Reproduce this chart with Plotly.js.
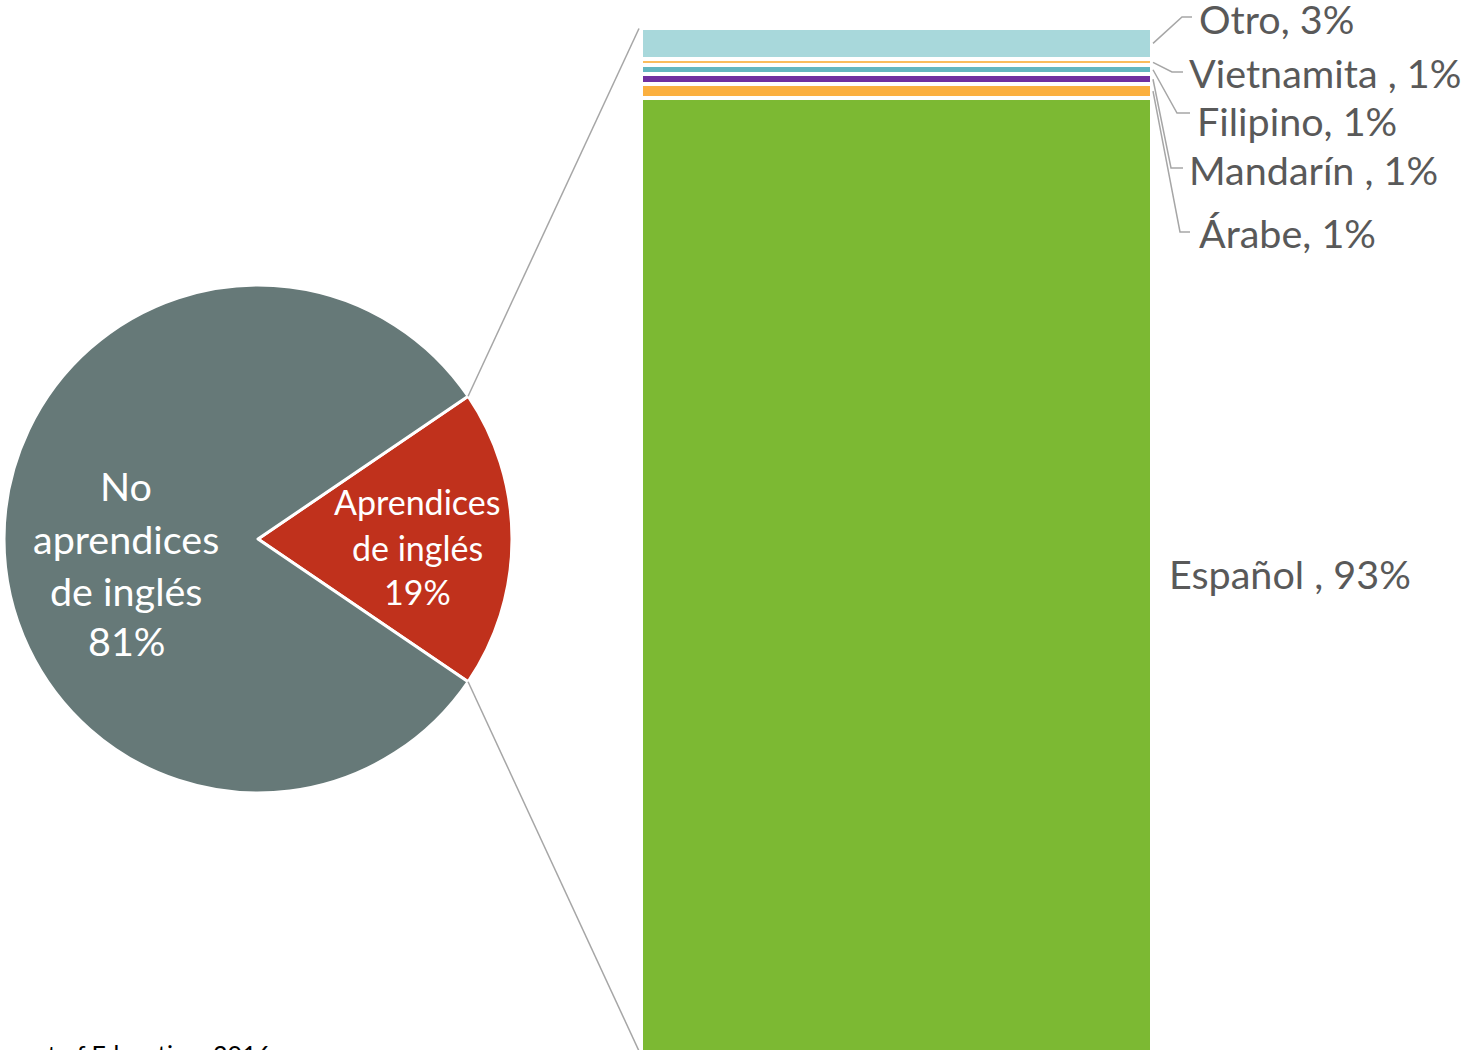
<!DOCTYPE html>
<html>
<head>
<meta charset="utf-8">
<script src="https://cdn.plot.ly/plotly-3.0.1.min.js"></script>
<style>
  html, body { margin: 0; padding: 0; background: #ffffff; overflow: hidden; }
  #chart { width: 1462px; height: 1050px; }
</style>
</head>
<body>
<div id="chart"></div>
<script>
// ---------------- DATA ----------------
const pieLabels = ["Aprendices de inglés", "No aprendices de inglés"];
const pieValues = [19, 81];
const pieLabelLines = [["Aprendices", "de inglés", "19%"], ["No", "aprendices", "de inglés", "81%"]];

const langLabels = ["Español", "Árabe", "Mandarín", "Filipino", "Vietnamita", "Otro"];
const langValues = [93.15, 1.3, 1.0, 0.85, 0.6, 3.1];
const langText = ["Español , 93%", "Árabe, 1%", "Mandarín , 1%", "Filipino, 1%", "Vietnamita , 1%", "Otro, 3%"];

const sourceText = "Source: U.S. Department of Education, 2016";

// ---------------- STYLE / LAYOUT ----------------
const W = 1462, H = 1050;
const FONT = "Lato, 'Open Sans', sans-serif";
const pieColors = ["#c0311c", "#667978"];
const langColors = ["#7cb933", "#fbb040", "#7030a0", "#64b7c0", "#fbbd5e", "#a8d8db"];

const PIE_C = {x: 258, y: 539}, PIE_R = 254;
const BAR_L = 641, BAR_R = 1152, BAR_TOP = 27.5, BAR_BASE = 1052, PLOT_TOP = 20;

const px = x => x / W;
const py = y => 1 - y / H;

const total = langValues.reduce((a, b) => a + b, 0);
const k = (BAR_BASE - BAR_TOP) / total;   // px per unit
const yRange = [(BAR_BASE - H) / k, (BAR_BASE - PLOT_TOP) / k];
const valToPx = v => BAR_BASE - v * k;

// label placement (left x, vertical centre) for each language, same order as langLabels
const langLabelPos = [[1167, 573], [1197, 232], [1187, 169], [1195, 120], [1187, 72], [1197, 19]];
// leader elbows [x of elbow, y of elbow, x end]
const leaderElbows = [null, [1180, 232, 1190], [1171, 168, 1183], [1177, 113, 1190], [1172, 72, 1183], [1182, 17, 1192]];

const traces = [];
const pieFirstShare = pieValues[0] / pieValues.reduce((a, b) => a + b, 0);
traces.push({
  type: "pie",
  labels: pieLabels,
  values: pieValues,
  sort: false,
  direction: "clockwise",
  rotation: 90 - 360 * pieFirstShare / 2,
  marker: {colors: pieColors, line: {color: "#ffffff", width: 3}},
  textinfo: "none",
  hoverinfo: "none",
  domain: {x: [px(PIE_C.x - PIE_R), px(PIE_C.x + PIE_R)], y: [py(PIE_C.y + PIE_R), py(PIE_C.y - PIE_R)]},
  showlegend: false
});

langLabels.forEach((lab, i) => {
  traces.push({
    type: "bar",
    x: [0],
    y: [langValues[i]],
    name: lab,
    marker: {color: langColors[i], line: {color: "#ffffff", width: 4}},
    xaxis: "x", yaxis: "y",
    hoverinfo: "none",
    showlegend: false
  });
});

const annotations = [];
const shapes = [];

// pie labels
const pieLabelCenters = [[417, [501.5, 547.5, 591.5], 34], [126, [485, 538, 590, 640], 39.5]];
pieLabelLines.forEach((lines, i) => {
  const [cx, ys, fs] = pieLabelCenters[i];
  lines.forEach((t, j) => {
    annotations.push({
      xref: "paper", yref: "paper", x: px(cx), y: py(ys[j]),
      xanchor: "center", yanchor: "middle", showarrow: false,
      text: t, font: {family: FONT, size: fs, color: "#ffffff"}
    });
  });
});

// bar labels + leaders
let cum = 0;
langLabels.forEach((lab, i) => {
  const mid = cum + langValues[i] / 2;
  cum += langValues[i];
  const [lx, ly] = langLabelPos[i];
  annotations.push({
    xref: "paper", yref: "paper", x: px(lx), y: py(ly),
    xanchor: "left", yanchor: "middle", showarrow: false,
    text: langText[i], font: {family: FONT, size: 39.5, color: "#595959"}
  });
  const e = leaderElbows[i];
  if (e) {
    const sy = valToPx(mid);
    shapes.push({
      type: "path", xref: "paper", yref: "paper",
      path: `M ${px(BAR_R + 1)} ${py(sy)} L ${px(e[0])} ${py(e[1])} L ${px(e[2])} ${py(e[1])}`,
      line: {color: "#a6a6a6", width: 1.5}
    });
  }
});

// connector lines from the pie slice to the bar
const half = Math.PI * pieFirstShare;
const ex = PIE_C.x + PIE_R * Math.cos(half);
const eyTop = PIE_C.y - PIE_R * Math.sin(half);
const eyBot = PIE_C.y + PIE_R * Math.sin(half);
shapes.push({type: "line", xref: "paper", yref: "paper", x0: px(ex), y0: py(eyTop), x1: px(BAR_L - 2), y1: py(BAR_TOP + 1), line: {color: "#a6a6a6", width: 1.5}});
shapes.push({type: "line", xref: "paper", yref: "paper", x0: px(ex), y0: py(eyBot), x1: px(BAR_L - 2), y1: py(BAR_BASE - 1), line: {color: "#a6a6a6", width: 1.5}});

// source (cut off at bottom)
annotations.push({
  xref: "paper", yref: "paper", x: px(273), y: py(1054),
  xanchor: "right", yanchor: "middle", showarrow: false,
  text: sourceText, font: {family: FONT, size: 25, color: "#000000"}
});

const layout = {
  width: W, height: H,
  margin: {l: 0, r: 0, t: 0, b: 0},
  paper_bgcolor: "#ffffff", plot_bgcolor: "rgba(0,0,0,0)",
  barmode: "stack", bargap: 0,
  showlegend: false,
  xaxis: {domain: [px(BAR_L), px(BAR_R)], range: [-0.5, 0.5], visible: false, fixedrange: true},
  yaxis: {domain: [0, py(PLOT_TOP)], range: yRange, visible: false, fixedrange: true},
  annotations: annotations,
  shapes: shapes
};

Plotly.newPlot("chart", traces, layout, {staticPlot: true, displayModeBar: false});
</script>
</body>
</html>
